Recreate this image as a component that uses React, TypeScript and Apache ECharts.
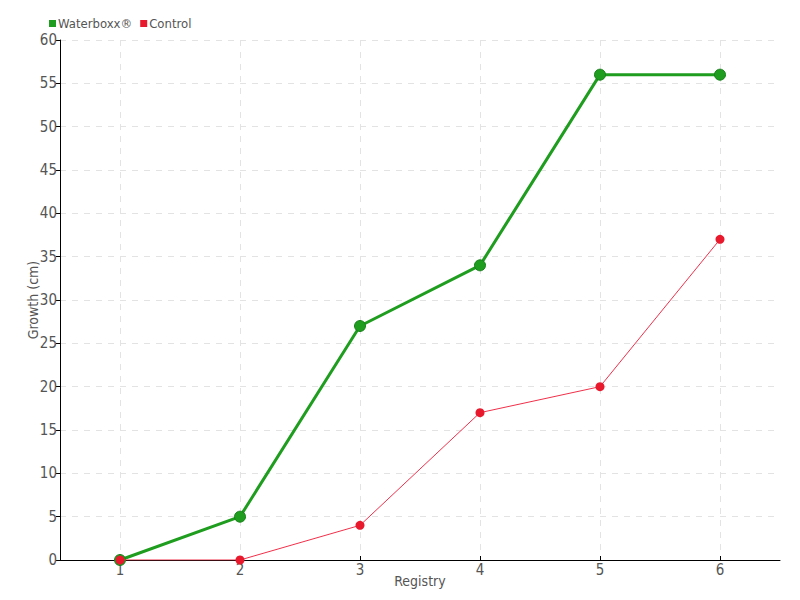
import React, { useEffect, useRef } from "react";
import * as echarts from "echarts";

const categories = ["1", "2", "3", "4", "5", "6"];
const waterboxx = [0, 5, 27, 34, 56, 56];
const control = [0, 0, 4, 17, 20, 37];

const FONT = "'Liberation Sans Narrow', 'DejaVu Sans Condensed', 'Noto Sans', sans-serif";
const TEXT = "#555";

export default function App() {
  const ref = useRef<HTMLDivElement>(null);
  useEffect(() => {
    if (!ref.current) return;
    const chart = echarts.init(ref.current, null, { renderer: "svg" });
    chart.setOption({
      animation: false,
      textStyle: { fontFamily: FONT },
      legend: {
        left: 44,
        top: 12,
        itemWidth: 7,
        itemHeight: 7,
        itemGap: 8,
        icon: "rect",
        itemStyle: { borderWidth: 0 },
        textStyle: { fontFamily: FONT, fontSize: 13, color: TEXT, padding: [0, 0, 0, -3] },
        data: ["Waterboxx®", "Control"],
      },
      grid: { left: 60, right: 20, top: 40, bottom: 40 },
      xAxis: {
        type: "category",
        data: categories,
        boundaryGap: true,
        name: "Registry",
        nameLocation: "middle",
        nameGap: 14,
        nameMoveOverlap: false,
        nameTextStyle: { fontFamily: FONT, fontSize: 14, color: TEXT },
        axisLine: { lineStyle: { color: "#000", width: 1 } },
        axisTick: { show: true, inside: true, alignWithLabel: true, length: 4, lineStyle: { color: "#000" } },
        axisLabel: { fontFamily: FONT, fontSize: 15, color: TEXT, margin: 2 },
        splitLine: { show: true, alignWithLabel: true, lineStyle: { color: "#e3e3e3", type: [6, 6] } },
      },
      yAxis: {
        type: "value",
        min: 0,
        max: 60,
        interval: 5,
        name: "Growth (cm)",
        nameLocation: "middle",
        nameGap: 20,
        nameMoveOverlap: false,
        nameTextStyle: { fontFamily: FONT, fontSize: 14, color: TEXT },
        axisLine: { show: true, lineStyle: { color: "#000", width: 1 } },
        axisTick: { show: true, length: 4, lineStyle: { color: "#000" } },
        axisLabel: { fontFamily: FONT, fontSize: 15, color: TEXT, margin: 3 },
        splitLine: { show: true, lineStyle: { color: "#e3e3e3", type: [6, 6] } },
      },
      series: [
        {
          name: "Waterboxx®",
          type: "line",
          data: waterboxx,
          symbol: "circle",
          symbolSize: 11,
          lineStyle: { color: "#1f9d1f", width: 3 },
          itemStyle: { color: "#1f9d1f", borderColor: "#17801a", borderWidth: 1 },
          z: 2,
        },
        {
          name: "Control",
          type: "line",
          data: control,
          symbol: "circle",
          symbolSize: 9,
          lineStyle: { color: "#f0304a", width: 1 },
          itemStyle: { color: "#e8192c", borderWidth: 0 },
          z: 3,
        },
      ],
    });
    return () => chart.dispose();
  }, []);
  return <div ref={ref} style={{ width: 800, height: 600, position: "absolute", left: 0, top: 0 }} />;
}
